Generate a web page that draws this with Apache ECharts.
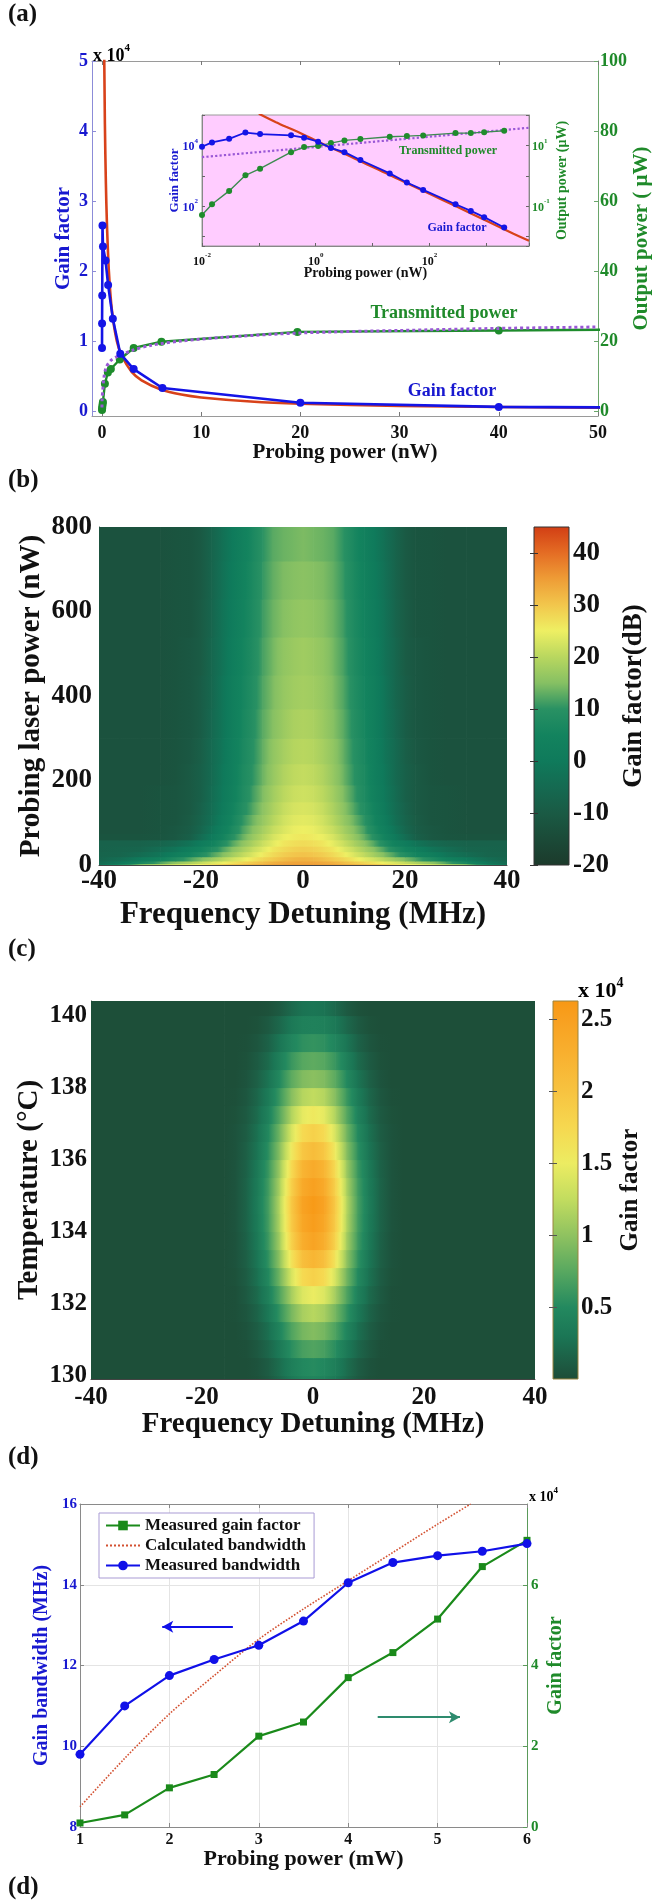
<!DOCTYPE html>
<html><head><meta charset="utf-8">
<script src="https://cdn.jsdelivr.net/npm/echarts@6.0.0/dist/echarts.min.js"></script>
<style>html,body{margin:0;padding:0;background:#fff;}#chart{width:654px;height:1902px;}</style>
</head><body><div id="chart"></div>
<script>
// ===================== DATA =====================
// ---- Panel (a): measured gain factor (shared by main plot and inset) ----
const gainX = [0.01, 0.015, 0.03, 0.058, 0.105, 0.368, 0.624, 1.1, 1.85, 3.2, 6.1, 20, 40, 77.4, 287, 533, 915, 2060];
const gainY = [9000, 12500, 16500, 26500, 23500, 21500, 18000, 13200, 8200, 6000, 3300, 1200, 600, 343, 116, 70, 43.5, 20];
// calculated gain factor (red)
const calcX = [0.1, 0.2, 0.3, 0.4, 0.5, 0.7, 1, 1.5, 2, 3, 4, 6, 8, 10, 15, 20, 30, 50, 100, 300, 1000, 3000, 5623];
const calcY = [110000, 58000, 41000, 32500, 27000, 20000, 14500, 10000, 7900, 5600, 4400, 3050, 2360, 1950, 1370, 1060, 740, 470, 255, 97, 33, 12.3, 7.3];
// transmitted power, main plot (uW)
const powMainX = [0.01, 0.02, 0.04, 0.07, 0.1, 0.3, 0.6, 0.9, 1.8, 3.2, 6.0, 19.7, 40, 77];
const powMainY = [0.3, 0.7, 1.3, 2.0, 2.6, 7.8, 11, 12, 14.7, 18, 19.8, 22.6, 23, 23.8];
// calculated transmitted power, main plot (purple dotted)
const theoMainX = [0.002, 0.02, 0.08, 0.2, 0.42, 0.84, 1.5, 2.1, 3, 5, 8, 12, 20, 30, 40, 50];
const theoMainY = [1, 3.5, 5.7, 9.5, 12.4, 14.3, 15.5, 16.2, 17.3, 18.8, 20, 21, 22.3, 23, 23.6, 24];
// inset: transmitted power at gainX (uW) and calculated power
const powInsetY = [0.051, 0.116, 0.318, 1.04, 1.72, 6.0, 8.8, 9.5, 11.9, 14.6, 16.1, 19.2, 20.2, 21.3, 25.4, 25.4, 27.3, 30.3];
const theoInsetX = [0.01, 1, 5623];
const theoInsetY = [4.1, 8.9, 38];
// ticks
const aXTicks = [0, 10, 20, 30, 40, 50];
const aGainTicks = [0, 10000, 20000, 30000, 40000, 50000];
const aPowTicks = [0, 20, 40, 60, 80, 100];
const insetXExp = [-2, 0, 2];
const insetGainExp = [2, 4];
const insetPowExp = [-1, 1];

// ---- Panel (b): gain (dB) vs detuning (MHz) and probing power (nW) ----
const bX = [0, 2, 4, 6, 8, 10, 12, 14, 16, 18, 20, 22, 25, 28, 32, 36, 40];
const bP = [0, 4, 10, 20, 32, 45, 60, 75, 95, 120, 150, 190, 240, 300, 370, 450, 540, 630, 720, 800];
const bRows = [
  [35, 35, 34.5, 34, 33, 32, 31, 30, 28.5, 27, 25.5, 24, 22, 18.5, 14, 6, -3],
  [34, 34, 33.5, 32.5, 31, 29.5, 28, 26.5, 24.5, 23, 21, 19, 16, 12, 6, -1, -5],
  [32.5, 32, 31, 29.5, 28, 26, 24, 22, 19.5, 17, 14.5, 12, 8, 4, 0, -4, -6.5],
  [30.5, 30, 29, 27.5, 25.5, 23, 20.5, 17.5, 14.5, 11.5, 8.5, 5.5, 2, -1.5, -4.5, -6.5, -7],
  [29, 28.5, 27.5, 26, 23.5, 21, 18, 15, 11.5, 8, 5, 2, -1.5, -4, -6.5, -7, -7.5],
  [27.5, 27, 26, 24, 21.5, 18.5, 15.5, 12, 8, 4, 1, -2, -5, -6.5, -7.5, -7.5, -7.5],
  [26, 25.5, 24.5, 22.5, 19.5, 16.5, 13, 9, 4.5, 0, -4, -8, -10.5, -11.5, -12, -12, -12],
  [25, 24.5, 23, 21, 18, 15, 11.5, 7, 2.5, -2, -6, -9, -11, -12, -12.5, -12.5, -12.5],
  [24, 23.5, 22, 19.5, 16.5, 13.5, 10, 5.5, 1, -3.5, -7, -9.5, -11.5, -12, -12.5, -12.5, -12.5],
  [23, 22.5, 21, 18.5, 15.5, 12, 8.5, 4.5, 0, -4, -7.5, -10, -11.5, -12, -12.5, -12.5, -12.5],
  [22, 21.5, 20, 17.5, 14.5, 11, 7.5, 3.5, -0.5, -4.5, -8, -10, -11.5, -12, -12.5, -12.5, -12.5],
  [21, 20.5, 19, 16.5, 13.5, 10, 7, 3, -1, -5, -8, -10, -12, -12.5, -12.5, -12.5, -12.5],
  [20, 19.5, 18, 16, 13, 9.5, 6.5, 2.5, -1.5, -5, -8.5, -10.5, -12, -12.5, -12.5, -12.5, -12.5],
  [19, 18.5, 17, 15, 12.5, 9, 6, 2, -2, -5.5, -9, -11, -12, -12.5, -12.5, -12.5, -12.5],
  [18, 17.5, 16.5, 14.5, 12, 8.5, 5.5, 2, -2, -6, -9, -11, -12, -12.5, -12.5, -12.5, -12.5],
  [17.5, 17, 16, 14, 11.5, 8, 5, 1.5, -2.5, -6, -9.5, -11, -12, -12.5, -12.5, -12.5, -12.5],
  [16.5, 16, 15, 13.5, 11, 7.5, 4.5, 1, -2.5, -6.5, -9.5, -11.5, -12, -12.5, -12.5, -12.5, -12.5],
  [15.5, 15, 14.5, 13, 10.5, 7, 4, 0.5, -3, -7, -10, -11.5, -12, -12.5, -12.5, -12.5, -12.5],
  [14.5, 14, 13.5, 12.5, 10, 6.5, 3.5, 0, -3.5, -7, -10, -11.5, -12, -12.5, -12.5, -12.5, -12.5]
];
const bColorRange = [-20, 45];
const bColorTicks = [-20, -10, 0, 10, 20, 30, 40];

// ---- Panel (c): gain factor (x1e4) vs detuning (MHz) and temperature (C) ----
const cX = [0, 2, 4, 6, 8, 10, 12, 14, 16, 40];
const cT = [129.9, 130.0, 130.5, 131.0, 131.5, 132.0, 132.5, 133.0, 133.5, 134.0, 134.5, 135.0, 135.5, 136.0, 136.5, 137.0, 137.5, 138.0, 138.5, 139.0, 139.5, 140.0, 140.4];
const cRows = [
  [0.45, 0.42, 0.32, 0.2, 0.1, 0.04, 0.02, 0.02, 0.02, 0.02],
  [0.52, 0.48, 0.38, 0.24, 0.12, 0.05, 0.02, 0.02, 0.02, 0.02],
  [0.72, 0.67, 0.53, 0.34, 0.19, 0.09, 0.03, 0.02, 0.02, 0.02],
  [0.95, 0.88, 0.7, 0.46, 0.26, 0.13, 0.05, 0.02, 0.02, 0.02],
  [1.2, 1.12, 0.88, 0.58, 0.33, 0.17, 0.07, 0.03, 0.02, 0.02],
  [1.5, 1.4, 1.1, 0.72, 0.42, 0.22, 0.1, 0.03, 0.02, 0.02],
  [1.85, 1.72, 1.35, 0.88, 0.5, 0.27, 0.12, 0.04, 0.02, 0.02],
  [2.2, 2.05, 1.6, 1.02, 0.58, 0.31, 0.14, 0.05, 0.02, 0.02],
  [2.45, 2.3, 1.8, 1.12, 0.64, 0.34, 0.16, 0.05, 0.02, 0.02],
  [2.55, 2.4, 1.88, 1.18, 0.67, 0.36, 0.17, 0.06, 0.02, 0.02],
  [2.6, 2.45, 1.9, 1.2, 0.68, 0.37, 0.17, 0.06, 0.02, 0.02],
  [2.5, 2.35, 1.82, 1.15, 0.66, 0.36, 0.17, 0.06, 0.02, 0.02],
  [2.35, 2.2, 1.7, 1.08, 0.62, 0.34, 0.16, 0.06, 0.02, 0.02],
  [2.1, 1.95, 1.52, 0.98, 0.56, 0.3, 0.14, 0.05, 0.02, 0.02],
  [1.85, 1.72, 1.35, 0.88, 0.5, 0.27, 0.12, 0.05, 0.02, 0.02],
  [1.55, 1.45, 1.15, 0.75, 0.43, 0.23, 0.1, 0.04, 0.02, 0.02],
  [1.25, 1.18, 0.95, 0.62, 0.36, 0.19, 0.08, 0.03, 0.02, 0.02],
  [0.98, 0.93, 0.76, 0.5, 0.29, 0.15, 0.06, 0.02, 0.02, 0.02],
  [0.78, 0.74, 0.6, 0.4, 0.22, 0.11, 0.04, 0.02, 0.02, 0.02],
  [0.58, 0.55, 0.45, 0.3, 0.16, 0.07, 0.03, 0.02, 0.02, 0.02],
  [0.42, 0.4, 0.32, 0.2, 0.1, 0.04, 0.02, 0.02, 0.02, 0.02],
  [0.3, 0.28, 0.2, 0.1, 0.04, 0.02, 0.02, 0.02, 0.02, 0.02]
];
const cColorRange = [0, 2.63];
const cColorTicks = [0.5, 1, 1.5, 2, 2.5];
const cYTicks = [130, 132, 134, 136, 138, 140];

// ---- Panel (d): bandwidth & gain vs probing power (mW) ----
const dPower = [1, 1.5, 2, 2.5, 3, 3.5, 4, 4.5, 5, 5.5, 6];
const dBandwidth = [9.8, 11.0, 11.75, 12.15, 12.5, 13.1, 14.05, 14.55, 14.72, 14.83, 15.02];
const dGain = [0.1, 0.3, 0.97, 1.3, 2.25, 2.6, 3.7, 4.32, 5.15, 6.45, 7.1];
const dCalcX = [1, 1.5, 2, 2.5, 3, 3.5, 4, 4.5, 5, 5.37];
const dCalcY = [8.5, 9.7, 10.8, 11.75, 12.65, 13.4, 14.1, 14.8, 15.5, 16];
const dGainTicks = [0, 2, 4, 6];

// ===================== STYLE HELPERS =====================
const FF = "'Liberation Serif','Times New Roman',serif";
const BLUE = '#1818d0', GREEN = '#1f8a2a', BLACK = '#111';
const bStops = [[-20,'#1c3a2b'],[-10,'#1a5a44'],[-5,'#156a51'],[0,'#0f7a5b'],[5,'#13835e'],[10,'#299163'],[15,'#86c063'],[20,'#b9d75f'],[25,'#eeef63'],[30,'#f2c64c'],[35,'#ee9c36'],[40,'#e46c24'],[45,'#d23e14']];
const cStops = [[0,'#1d4c37'],[0.1,'#1d5a42'],[0.3,'#1b7655'],[0.5,'#23895f'],[0.75,'#58a860'],[1.0,'#8fc260'],[1.25,'#c2dc5f'],[1.5,'#ecec62'],[1.75,'#f6d850'],[2.0,'#f7c340'],[2.25,'#f8b130'],[2.5,'#f8a020'],[2.63,'#f89814']];

const zip = (a, b) => a.map((v, i) => [v, b[i]]);
function hex2rgb(h){ return [parseInt(h.slice(1,3),16), parseInt(h.slice(3,5),16), parseInt(h.slice(5,7),16)]; }
function mix(a, b, t){ const A = hex2rgb(a), B = hex2rgb(b); return 'rgb(' + A.map((x,i)=>Math.round(x+(B[i]-x)*t)).join(',') + ')'; }
function cmap(stops, v){
  if (v <= stops[0][0]) return stops[0][1];
  for (let i = 1; i < stops.length; i++) {
    if (v <= stops[i][0]) { const t = (v - stops[i-1][0]) / (stops[i][0] - stops[i-1][0]); return mix(stops[i-1][1], stops[i][1], t); }
  }
  return stops[stops.length-1][1];
}
function segStops(stops, v0, v1){
  const out = [{offset:0, color:cmap(stops, v0)}];
  if (v1 !== v0) {
    const lo = Math.min(v0, v1), hi = Math.max(v0, v1);
    stops.forEach(s => { if (s[0] > lo && s[0] < hi) out.push({offset:(s[0]-v0)/(v1-v0), color:s[1]}); });
  }
  out.push({offset:1, color:cmap(stops, v1)});
  out.sort((a, b) => a.offset - b.offset);
  return out;
}
function buildCells(xs, edges, rows){
  const xsFull = xs.slice(1).reverse().map(v => -v).concat(xs);
  const cells = [];
  rows.forEach((row, r) => {
    const full = row.slice(1).reverse().concat(row);
    for (let i = 0; i < xsFull.length - 1; i++) cells.push([xsFull[i], xsFull[i+1], edges[r], edges[r+1], full[i], full[i+1]]);
  });
  return cells;
}
function heatRender(stops){
  return function(params, api){
    const a = api.coord([api.value(0), api.value(3)]);
    const b = api.coord([api.value(1), api.value(2)]);
    return {type:'rect', shape:{x:a[0], y:a[1], width:b[0]-a[0]+0.7, height:b[1]-a[1]+0.7},
      style:{fill:new echarts.graphic.LinearGradient(0,0,1,0, segStops(stops, api.value(4), api.value(5)))}};
  };
}
function barRender(stops, stroke){
  return function(params, api){
    const vmin = api.value(2), vmax = api.value(3);
    const a = api.coord([0, vmax]), b = api.coord([1, vmin]);
    const cs = stops.filter(s => s[0] >= vmin && s[0] <= vmax).map(s => ({offset:(s[0]-vmin)/(vmax-vmin), color:s[1]}));
    return {type:'rect', shape:{x:a[0], y:a[1], width:b[0]-a[0], height:b[1]-a[1]},
      style:{fill:new echarts.graphic.LinearGradient(0,1,0,0,cs), stroke:stroke, lineWidth:1}};
  };
}
function lab(color, size, margin, extra){ return Object.assign({color:color, fontSize:size, fontFamily:FF, fontWeight:'bold', margin:margin}, extra || {}); }
function nm(color, size){ return {color:color, fontSize:size, fontFamily:FF, fontWeight:'bold'}; }
function pow10(allowed){
  return function(v){ const e = Math.log10(v), r = Math.round(e);
    if (Math.abs(e - r) > 1e-6 || allowed.indexOf(r) < 0) return '';
    return '{b|10}{s|' + r + '}'; };
}
function richFor(color, size){
  return {b:{fontSize:size, fontFamily:FF, fontWeight:'bold', color:color, lineHeight:size+4, verticalAlign:'bottom'},
          s:{fontSize:Math.round(size*0.62), fontFamily:FF, fontWeight:'bold', color:color, lineHeight:Math.round(size*0.62), verticalAlign:'top'}};
}
const noOB = {outerBoundsMode:'none', containLabel:false};
const baseAxis = {nameMoveOverlap:false, splitLine:{show:false}};

// ===================== OPTION =====================
const option = {
  animation:false,
  backgroundColor:'#fff',
  grid:[
    Object.assign({left:92, top:61, width:506, height:355}, noOB),
    Object.assign({left:202, top:115, width:327, height:131, show:true, backgroundColor:'#ffccff', borderColor:'#9a9a9a', borderWidth:1, z:3}, noOB),
    Object.assign({left:99, top:527, width:408, height:338}, noOB),
    Object.assign({left:534, top:527, width:35, height:338}, noOB),
    Object.assign({left:91, top:1001, width:444, height:378}, noOB),
    Object.assign({left:553, top:1001, width:25, height:378}, noOB),
    Object.assign({left:80, top:1504, width:447, height:323}, noOB)
  ],
  xAxis:[
    Object.assign({gridIndex:0, type:'value', min:-1, max:50, position:'bottom',
      axisLine:{show:true, onZero:false, lineStyle:{color:'#9a9a9a'}},
      axisTick:{show:true, inside:true, length:4, customValues:aXTicks, lineStyle:{color:'#777'}},
      axisLabel:lab(BLACK, 18, 8, {customValues:aXTicks}),
      name:'Probing power (nW)', nameLocation:'middle', nameGap:26, nameTextStyle:nm(BLACK, 21)}, baseAxis),
    Object.assign({gridIndex:0, type:'value', min:-1, max:50, position:'top',
      axisLine:{show:true, onZero:false, lineStyle:{color:'#9a9a9a'}},
      axisTick:{show:true, inside:true, length:4, customValues:aXTicks, lineStyle:{color:'#777'}},
      axisLabel:{show:false}}, baseAxis),
    Object.assign({gridIndex:1, type:'log', logBase:10, min:0.01, max:5623, position:'bottom', z:4,
      axisLine:{show:true, onZero:false, lineStyle:{color:'#888'}},
      axisTick:{show:true, inside:true, length:3, lineStyle:{color:'#666'}},
      axisLabel:{formatter:pow10(insetXExp), margin:6, rich:richFor(BLACK, 12)},
      name:'Probing power (nW)', nameLocation:'middle', nameGap:20, nameTextStyle:nm(BLACK, 14)}, baseAxis),
    Object.assign({gridIndex:2, type:'value', min:-40, max:40, interval:20,
      axisLine:{show:true, onZero:false, lineStyle:{color:'#444'}}, axisTick:{show:false},
      axisLabel:lab(BLACK, 27, 3),
      name:'Frequency Detuning (MHz)', nameLocation:'middle', nameGap:34, nameTextStyle:nm(BLACK, 31)}, baseAxis),
    Object.assign({gridIndex:3, type:'value', min:0, max:1, show:false}, baseAxis),
    Object.assign({gridIndex:4, type:'value', min:-40, max:40, interval:20,
      axisLine:{show:true, onZero:false, lineStyle:{color:'#444'}}, axisTick:{show:false},
      axisLabel:lab(BLACK, 25, 6),
      name:'Frequency Detuning (MHz)', nameLocation:'middle', nameGap:31, nameTextStyle:nm(BLACK, 29)}, baseAxis),
    Object.assign({gridIndex:5, type:'value', min:0, max:1, show:false}, baseAxis),
    Object.assign({gridIndex:6, type:'value', min:1, max:6, interval:1, position:'bottom',
      axisLine:{show:true, onZero:false, lineStyle:{color:'#8a8a8a'}},
      axisTick:{show:true, inside:true, length:4, lineStyle:{color:'#888'}},
      axisLabel:lab(BLACK, 16, 5),
      splitLine:{show:true, lineStyle:{color:'#e4e4e4', width:1}},
      name:'Probing power (mW)', nameLocation:'middle', nameGap:21, nameTextStyle:nm(BLACK, 22), nameMoveOverlap:false}),
    Object.assign({gridIndex:6, type:'value', min:1, max:6, interval:1, position:'top',
      axisLine:{show:true, onZero:false, lineStyle:{color:'#8a8a8a'}},
      axisTick:{show:true, inside:true, length:4, lineStyle:{color:'#888'}},
      axisLabel:{show:false}}, baseAxis)
  ],
  yAxis:[
    Object.assign({gridIndex:0, type:'value', min:-700, max:50000, position:'left',
      axisLine:{show:true, onZero:false, lineStyle:{color:'#8c8cd8'}},
      axisTick:{show:true, inside:true, length:4, customValues:aGainTicks, lineStyle:{color:'#8c8cd8'}},
      axisLabel:lab(BLUE, 18, 4, {customValues:aGainTicks, formatter:v => String(v/10000)}),
      name:'Gain factor', nameLocation:'middle', nameGap:18, nameTextStyle:nm(BLUE, 21)}, baseAxis),
    Object.assign({gridIndex:0, type:'value', min:-1.43, max:100, position:'right',
      axisLine:{show:true, onZero:false, lineStyle:{color:'#6aa56a'}},
      axisTick:{show:true, inside:true, length:4, customValues:aPowTicks, lineStyle:{color:'#6aa56a'}},
      axisLabel:lab(GREEN, 18, 2, {customValues:aPowTicks}),
      name:'Output power ( \u03bcW)', nameLocation:'middle', nameRotate:90, nameGap:33, nameTextStyle:nm(GREEN, 21)}, baseAxis),
    Object.assign({gridIndex:1, type:'log', logBase:10, min:4.9, max:100000, position:'left', z:4,
      axisLine:{show:true, onZero:false, lineStyle:{color:'#888'}},
      axisTick:{show:true, inside:true, length:3, lineStyle:{color:'#666'}},
      axisLabel:{formatter:pow10(insetGainExp), margin:4, rich:richFor(BLUE, 12)},
      name:'Gain factor', nameLocation:'middle', nameGap:21, nameTextStyle:nm(BLUE, 13)}, baseAxis),
    Object.assign({gridIndex:1, type:'log', logBase:10, min:0.0049, max:100, position:'right', z:4,
      axisLine:{show:true, onZero:false, lineStyle:{color:'#888'}},
      axisTick:{show:true, inside:true, length:3, lineStyle:{color:'#666'}},
      axisLabel:{formatter:pow10(insetPowExp), margin:3, rich:richFor(GREEN, 12)},
      name:'Output power (\u03bcW)', nameLocation:'middle', nameRotate:90, nameGap:26, nameTextStyle:nm(GREEN, 14)}, baseAxis),
    Object.assign({gridIndex:2, type:'value', min:0, max:800, interval:200,
      axisLine:{show:true, onZero:false, lineStyle:{color:'#444'}}, axisTick:{show:false},
      axisLabel:lab(BLACK, 27, 7),
      name:'Probing laser power (nW)', nameLocation:'middle', nameGap:53, nameTextStyle:nm(BLACK, 29)}, baseAxis),
    Object.assign({gridIndex:3, type:'value', min:bColorRange[0], max:bColorRange[1], position:'right', z:5,
      axisLine:{show:false}, axisTick:{show:true, inside:true, length:4, customValues:bColorTicks, lineStyle:{color:'#333'}},
      axisLabel:lab(BLACK, 27, 4, {customValues:bColorTicks}),
      name:'Gain factor(dB)', nameLocation:'middle', nameRotate:90, nameGap:52, nameTextStyle:nm(BLACK, 27)}, baseAxis),
    Object.assign({gridIndex:3, type:'value', min:bColorRange[0], max:bColorRange[1], position:'left', z:5,
      axisLine:{show:false}, axisTick:{show:true, inside:true, length:4, customValues:bColorTicks, lineStyle:{color:'#333'}},
      axisLabel:{show:false}}, baseAxis),
    Object.assign({gridIndex:4, type:'value', min:129.9, max:140.4,
      axisLine:{show:true, onZero:false, lineStyle:{color:'#444'}}, axisTick:{show:false},
      axisLabel:lab(BLACK, 25, 4, {customValues:cYTicks}),
      name:'Temperature (\u00b0C)', nameLocation:'middle', nameGap:47, nameTextStyle:nm(BLACK, 29)}, baseAxis),
    Object.assign({gridIndex:5, type:'value', min:cColorRange[0], max:cColorRange[1], position:'right', z:5,
      axisLine:{show:false}, axisTick:{show:true, inside:true, length:4, customValues:cColorTicks, lineStyle:{color:'#555'}},
      axisLabel:lab(BLACK, 25, 3, {customValues:cColorTicks}),
      name:'Gain factor', nameLocation:'middle', nameRotate:90, nameGap:40, nameTextStyle:nm(BLACK, 25)}, baseAxis),
    Object.assign({gridIndex:5, type:'value', min:cColorRange[0], max:cColorRange[1], position:'left', z:5,
      axisLine:{show:false}, axisTick:{show:true, inside:true, length:4, customValues:cColorTicks, lineStyle:{color:'#555'}},
      axisLabel:{show:false}}, baseAxis),
    Object.assign({gridIndex:6, type:'value', min:8, max:16, interval:2, position:'left',
      axisLine:{show:true, onZero:false, lineStyle:{color:'#8a8a8a'}},
      axisTick:{show:true, inside:true, length:4, lineStyle:{color:'#888'}},
      axisLabel:lab(BLUE, 15, 3),
      splitLine:{show:true, lineStyle:{color:'#e4e4e4', width:1}},
      name:'Gain bandwidth (MHz)', nameLocation:'middle', nameGap:28, nameTextStyle:nm(BLUE, 20), nameMoveOverlap:false}),
    Object.assign({gridIndex:6, type:'value', min:0, max:8, position:'right',
      axisLine:{show:true, onZero:false, lineStyle:{color:'#5a9a5a'}},
      axisTick:{show:true, inside:true, length:4, customValues:dGainTicks, lineStyle:{color:'#5a9a5a'}},
      axisLabel:lab(GREEN, 15, 4, {customValues:dGainTicks}),
      name:'Gain factor', nameLocation:'middle', nameRotate:90, nameGap:19, nameTextStyle:nm(GREEN, 20)}, baseAxis)
  ],
  legend:{
    orient:'vertical', left:99, top:1513, padding:[3,8,3,6], itemGap:1, itemWidth:34, itemHeight:12,
    borderColor:'#a99bd4', borderWidth:1, backgroundColor:'#fff',
    textStyle:{fontFamily:FF, fontWeight:'bold', fontSize:17, color:BLACK, lineHeight:19},
    data:[{name:'Measured gain factor'}, {name:'Calculated bandwidth', itemStyle:{opacity:0}}, {name:'Measured bandwidth'}]
  },
  series:[
    // (a) main
    {type:'line', xAxisIndex:0, yAxisIndex:0, data:zip(calcX, calcY), showSymbol:false, smooth:0.3, clip:true,
      lineStyle:{color:'#d8421a', width:2.6}, z:2},
    {type:'line', xAxisIndex:0, yAxisIndex:1, data:zip(powMainX, powMainY), symbol:'circle', symbolSize:8, clip:true,
      itemStyle:{color:'#1e8c2c'}, lineStyle:{color:'#1e8c2c', width:2.4}, z:3},
    {type:'line', xAxisIndex:0, yAxisIndex:1, data:zip(theoMainX, theoMainY), showSymbol:false, smooth:0.3, clip:true,
      lineStyle:{color:'#9a58d6', width:3, type:'dotted'}, z:4},
    {type:'line', xAxisIndex:0, yAxisIndex:0, data:zip(gainX, gainY), symbol:'circle', symbolSize:8, clip:true,
      itemStyle:{color:'#1414e6'}, lineStyle:{color:'#1414e6', width:2.6}, z:5},
    // (a) inset
    {type:'line', xAxisIndex:2, yAxisIndex:2, data:zip(calcX, calcY), showSymbol:false, smooth:0.2, clip:true,
      lineStyle:{color:'#d8421a', width:2.2}, z:6},
    {type:'line', xAxisIndex:2, yAxisIndex:3, data:zip(theoInsetX, theoInsetY), showSymbol:false, clip:true,
      lineStyle:{color:'#9a58d6', width:2.2, type:'dotted'}, z:6},
    {type:'line', xAxisIndex:2, yAxisIndex:3, data:zip(gainX, powInsetY), symbol:'circle', symbolSize:6, clip:true,
      itemStyle:{color:'#1f8c2c'}, lineStyle:{color:'#3d8a50', width:1.4}, z:7},
    {type:'line', xAxisIndex:2, yAxisIndex:2, data:zip(gainX, gainY), symbol:'circle', symbolSize:6, clip:true,
      itemStyle:{color:'#1414e6'}, lineStyle:{color:'#1414e6', width:1.8}, z:8},
    // (b)
    {type:'custom', xAxisIndex:3, yAxisIndex:4, data:buildCells(bX, bP, bRows), encode:{x:[0,1], y:[2,3]},
      renderItem:heatRender(bStops), clip:true, silent:true},
    {type:'custom', xAxisIndex:4, yAxisIndex:5, data:[[0, 1, bColorRange[0], bColorRange[1]]], encode:{x:[0,1], y:[2,3]},
      renderItem:barRender(bStops, '#333'), silent:true, z:1},
    // (c)
    {type:'custom', xAxisIndex:5, yAxisIndex:7, data:buildCells(cX, cT, cRows), encode:{x:[0,1], y:[2,3]},
      renderItem:heatRender(cStops), clip:true, silent:true},
    {type:'custom', xAxisIndex:6, yAxisIndex:8, data:[[0, 1, cColorRange[0], cColorRange[1]]], encode:{x:[0,1], y:[2,3]},
      renderItem:barRender(cStops, '#9a8440'), silent:true, z:1},
    // (d)
    {name:'Measured gain factor', type:'line', xAxisIndex:7, yAxisIndex:11, data:zip(dPower, dGain), symbol:'rect', symbolSize:7,
      itemStyle:{color:'#1a8a1a'}, lineStyle:{color:'#1a8a1a', width:2.2}, z:3,
      markLine:{silent:true, symbol:['none','arrow'], symbolSize:[9,11], label:{show:false},
        lineStyle:{color:'#2e8b6e', width:2, type:'solid'}, data:[[{coord:[4.33, 2.72]}, {coord:[5.25, 2.72]}]]}},
    {name:'Calculated bandwidth', type:'line', xAxisIndex:7, yAxisIndex:10, data:zip(dCalcX, dCalcY), symbol:'none', smooth:0.3,
      itemStyle:{color:'#d35030'}, lineStyle:{color:'#d35030', width:1.6, type:'dotted'}, z:2},
    {name:'Measured bandwidth', type:'line', xAxisIndex:7, yAxisIndex:10, data:zip(dPower, dBandwidth), symbol:'circle', symbolSize:9,
      itemStyle:{color:'#1010e8'}, lineStyle:{color:'#1010e8', width:2.2}, z:4,
      markLine:{silent:true, symbol:['none','arrow'], symbolSize:[9,11], label:{show:false},
        lineStyle:{color:'#1010e8', width:2, type:'solid'}, data:[[{coord:[2.71, 12.96]}, {coord:[1.92, 12.96]}]]}}
  ],
  graphic:[
    {type:'text', x:8, y:15, style:{text:'(a)', font:"bold 25px 'Liberation Serif'", fill:BLACK, verticalAlign:'middle'}},
    {type:'text', x:8, y:481, style:{text:'(b)', font:"bold 25px 'Liberation Serif'", fill:BLACK, verticalAlign:'middle'}},
    {type:'text', x:8, y:950, style:{text:'(c)', font:"bold 25px 'Liberation Serif'", fill:BLACK, verticalAlign:'middle'}},
    {type:'text', x:8, y:1458, style:{text:'(d)', font:"bold 25px 'Liberation Serif'", fill:BLACK, verticalAlign:'middle'}},
    {type:'text', x:8, y:1888, style:{text:'(d)', font:"bold 25px 'Liberation Serif'", fill:BLACK, verticalAlign:'middle'}},
    {type:'text', x:93, y:54, z:10, style:{text:'{b|x 10}{s|4}', rich:richFor(BLUE, 18), verticalAlign:'middle'}},
    {type:'text', x:444, y:313, z:10, style:{text:'Transmitted power', font:"bold 18px 'Liberation Serif'", fill:GREEN, align:'center', verticalAlign:'middle'}},
    {type:'text', x:452, y:391, z:10, style:{text:'Gain factor', font:"bold 18px 'Liberation Serif'", fill:BLUE, align:'center', verticalAlign:'middle'}},
    {type:'text', x:448, y:151, z:10, style:{text:'Transmitted power', font:"bold 12px 'Liberation Serif'", fill:GREEN, align:'center', verticalAlign:'middle'}},
    {type:'text', x:457, y:228, z:10, style:{text:'Gain factor', font:"bold 12px 'Liberation Serif'", fill:BLUE, align:'center', verticalAlign:'middle'}},
    {type:'text', x:578, y:989, z:10, style:{text:'{b|x 10}{s|4}', rich:richFor(BLACK, 22), verticalAlign:'middle'}},
    {type:'text', x:529, y:1495, z:10, style:{text:'{b|x 10}{s|4}', rich:richFor(GREEN, 14), verticalAlign:'middle'}}
  ]
};
const chart = echarts.init(document.getElementById('chart'), null, {renderer:'canvas', width:654, height:1902});
chart.setOption(option);
</script></body></html>
